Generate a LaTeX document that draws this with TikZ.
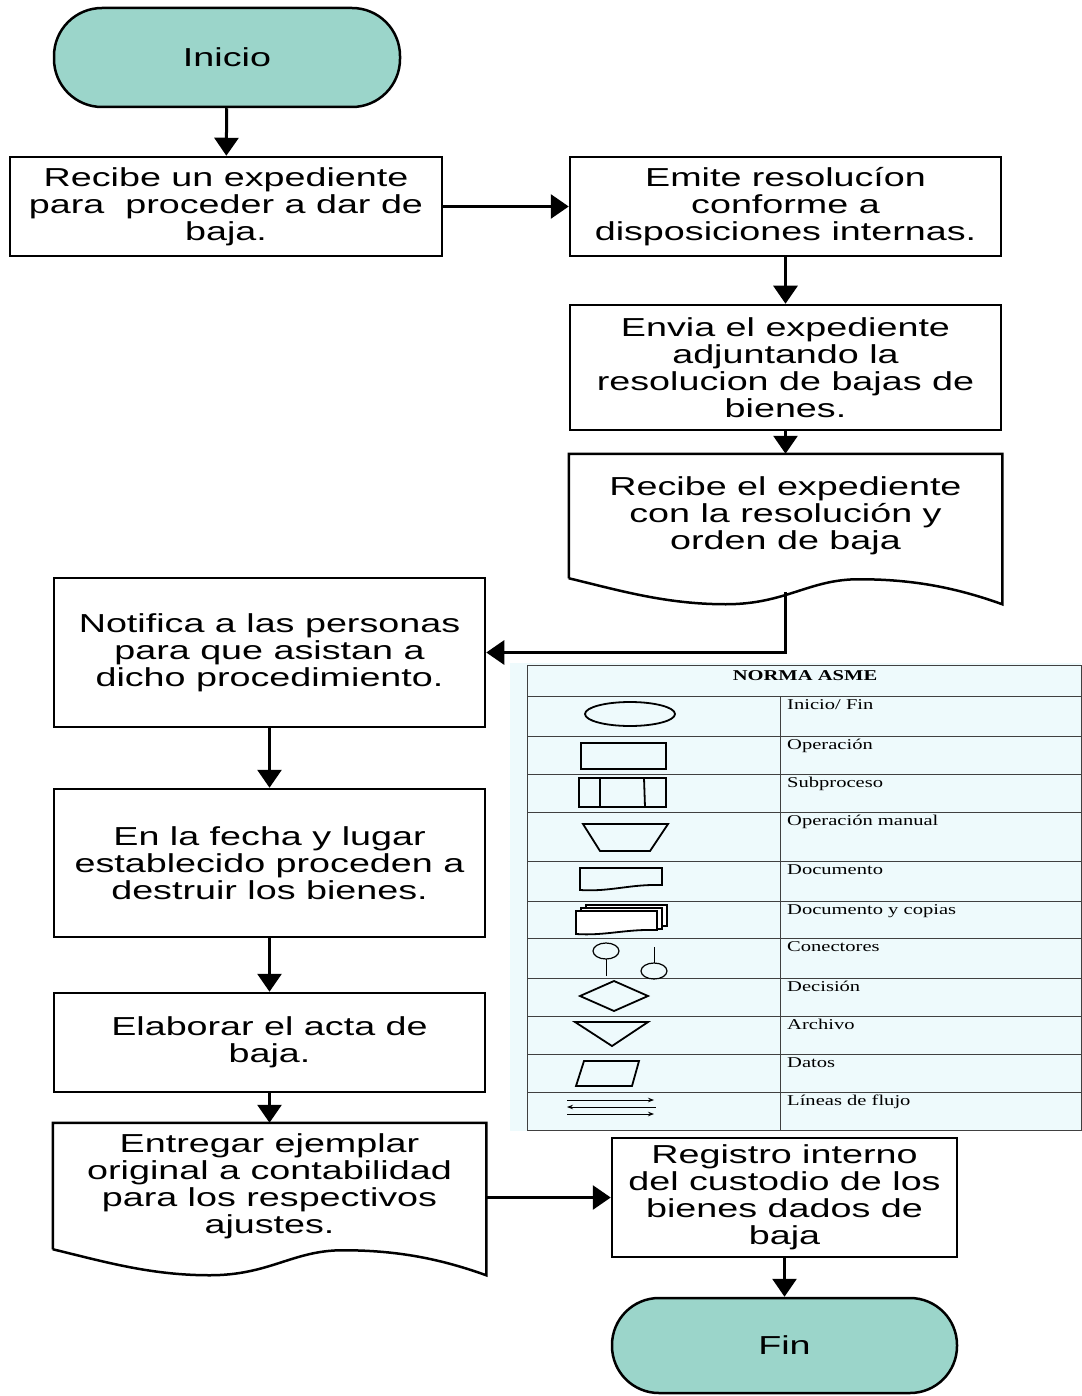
\documentclass[tikz,border=0pt]{standalone}
\usepackage{fontspec}
\setmainfont{Liberation Sans}
\newfontfamily\cajafont[FakeStretch=1.45]{Liberation Sans}
\newfontfamily\normafont[FakeStretch=1.37]{Liberation Serif}
\usetikzlibrary{arrows.meta,calc}
\definecolor{terminal}{HTML}{9BD5CA}
\definecolor{normafondo}{HTML}{EEFAFC}

% hoja con borde ondulado para los documentos
\newcommand\hojadoc[1]{%
	\draw[line width=2.5pt]
		(#1.south west) -- (#1.north west) -- (#1.north east) -- ($(#1.south east)+(0,26)$)
		.. controls +(-50,-18) and +(50,0) .. ($(#1.south west)+(290,1)$)
		.. controls +(-50,0) and +(60,0) .. ($(#1.south west)+(157,26)$)
		.. controls +(-60,0) and +(50,12) .. (#1.south west);
}

\begin{document}
\begin{tikzpicture}[x=1pt,y=-1pt,
	proceso/.style={draw=black, line width=2.5pt, align=center, inner sep=0pt,
		font=\cajafont\fontsize{26}{27}\selectfont},
	terminador/.style={proceso, fill=terminal, rounded corners=48pt},
	flecha/.style={line width=3pt, -{Triangle[width=24pt,length=18pt]}},
	simbolo/.style={line width=1.8pt},
	etiqueta/.style={anchor=north west, inner sep=2pt, font=\normafont\fontsize{15}{17}\selectfont}]
	\useasboundingbox (0,0) rectangle (1081,1396);
	%columna izquierda y derecha del proceso
	\node[terminador, minimum width=346pt, minimum height=99pt] (inicio) at (227,57.5) {Inicio};
	\node[proceso, minimum width=432pt, minimum height=99pt] (recibe) at (226,206.5)
		{Recibe un expediente\\para\ \ proceder a dar de\\baja.};
	\node[proceso, minimum width=431pt, minimum height=99pt] (emite) at (785.5,206.5)
		{Emite resoluc\'{\i}on\\conforme a\\disposiciones internas.};
	\node[proceso, minimum width=431pt, minimum height=125pt] (envia) at (785.5,367.5)
		{Envia el expediente\\adjuntando la\\resolucion de bajas de\\bienes.};
	\node[proceso, draw=none, minimum width=431pt, minimum height=122pt] (orden) at (785.5,516)
		{Recibe el expediente\\con la resoluci\'on y\\orden de baja};
	\node[proceso, minimum width=431pt, minimum height=149pt] (notifica) at (269.5,652.5)
		{Notifica a las personas\\para que asistan a\\dicho procedimiento.};
	\node[proceso, minimum width=431pt, minimum height=148pt] (destruir) at (269.5,863)
		{En la fecha y lugar\\establecido proceden a\\destruir los bienes.};
	\node[proceso, minimum width=431pt, minimum height=99pt] (acta) at (269.5,1042.5)
		{Elaborar el acta de\\baja.};
	\node[proceso, draw=none, minimum width=431pt, minimum height=124pt] (entregar) at (269.5,1186)
		{Entregar ejemplar\\original a contabilidad\\para los respectivos\\ajustes.};
	\node[proceso, minimum width=345pt, minimum height=119pt] (registro) at (784.5,1197.5)
		{Registro interno\\del custodio de los\\bienes dados de\\baja};
	\node[terminador, rounded corners=47pt, minimum width=345pt, minimum height=95pt] (fin) at (784.5,1345.5) {Fin};
	\hojadoc{orden}
	\hojadoc{entregar}
	%flechas
	\draw[flecha] (inicio) -- (recibe);
	\draw[flecha] (recibe) -- (emite);
	\draw[flecha] (emite) -- (envia);
	\draw[flecha] (envia) -- (orden);
	\draw[flecha] ([yshift=-14pt]orden.south) |- (notifica.east);
	\draw[flecha] (notifica) -- (destruir);
	\draw[flecha] (destruir) -- (acta);
	\draw[flecha] (acta) -- (entregar);
	\draw[flecha] (entregar.east |- registro.west) -- (registro.west);
	\draw[flecha] (registro) -- (fin);
	%tabla de la norma
	\fill[normafondo] (510,663) rectangle (1081,1131);
	\draw[line width=1pt, black!75] (527,665) rectangle (1081,1130);
	\foreach \y in {696,736,774,812,861,901,938,978,1016,1054,1092}
		\draw[line width=1pt, black!75] (527,\y) -- (1081,\y);
	\draw[line width=1pt, black!75] (780,696) -- (780,1130);
	\node[font=\normafont\bfseries\fontsize{15}{17}\selectfont] (norma) at (805,676) {NORMA ASME};
	\foreach \y/\nombre in {696/{Inicio/ Fin}, 736/Operaci\'on, 774/Subproceso, 812/Operaci\'on manual,
		861/Documento, 901/Documento y copias, 938/Conectores, 978/Decisi\'on, 1016/Archivo,
		1054/Datos, 1092/L\'{\i}neas de flujo}
		\node[etiqueta] at (785,\y+1) {\nombre};
	%simbolos
	\draw[simbolo] (630,714) ellipse [x radius=45pt, y radius=12pt];
	\draw[simbolo] (581,743) rectangle (666,769);
	\draw[simbolo] (579,778) rectangle (666,807);
	\draw[simbolo] (600,778) -- (600,807) (644,778) -- (645,807);
	\draw[simbolo] (583,824) -- (668,824) -- (650,851) -- (600,851) -- cycle;
	\draw[simbolo] (580,868) -- (662,868) -- (662,885) .. controls (630,884) and (610,892) .. (580,890) -- cycle;
	\draw[simbolo, fill=white] (586,905) rectangle (667,926);
	\draw[simbolo, fill=white] (581,908) rectangle (662,929);
	\draw[simbolo, fill=white] (576,911) -- (657,911) -- (657,930) .. controls (625,929) and (605,936) .. (576,934) -- cycle;
	\draw[line width=1.2pt] (606,951) ellipse [x radius=13pt, y radius=8pt];
	\draw[line width=0.8pt] (606,959) -- (606,976);
	\draw[line width=1.2pt] (654,971) ellipse [x radius=13pt, y radius=8pt];
	\draw[line width=0.8pt] (654,947) -- (654,963);
	\draw[simbolo] (614,981) -- (648,996) -- (614,1011) -- (580,996) -- cycle;
	\draw[simbolo] (575,1022) -- (648,1022) -- (612,1046) -- cycle;
	\draw[simbolo] (584,1061) -- (639,1061) -- (632,1086) -- (576,1086) -- cycle;
	\draw[line width=0.8pt, -{Stealth[length=6pt]}] (567,1100) -- (654,1100);
	\draw[line width=0.8pt, {Stealth[length=6pt]}-] (567,1107) -- (656,1107);
	\draw[line width=0.8pt, -{Stealth[length=6pt]}] (567,1114) -- (654,1114);
\end{tikzpicture}
\end{document}
